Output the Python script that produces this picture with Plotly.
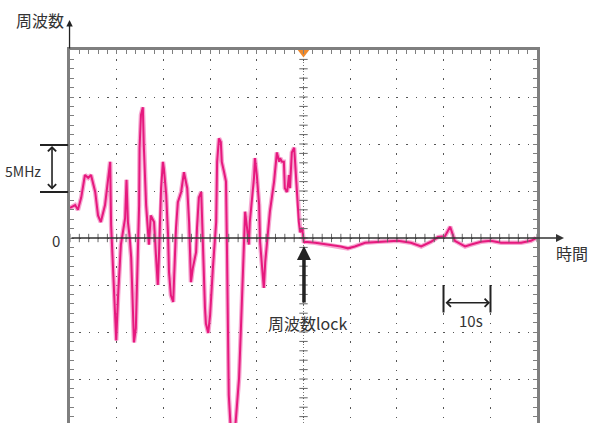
import plotly.graph_objects as go

# ---- data (time in s, frequency offset in MHz) ----
time_s = [0.0, 1.1, 1.7, 2.4, 3.2, 3.9, 4.5, 5.4, 6.0, 6.6, 7.5, 8.1, 8.6, 8.8, 9.2, 9.6, 9.9,
          10.3, 10.7, 10.9, 11.8, 12.1, 12.4, 12.8, 13.1, 13.5, 13.7, 14.1, 14.6, 14.8, 14.9,
          15.2, 15.6, 15.8, 16.3, 16.7, 16.9, 17.3, 18.0, 18.4, 18.8, 19.1, 19.5, 19.9, 20.1,
          20.6, 21.0, 21.2, 21.6, 22.1, 22.3, 22.7, 23.1, 23.8, 24.4, 25.1, 25.5, 25.7, 25.9,
          26.3, 27.0, 27.2, 27.6, 28.1, 28.3, 28.5, 28.9, 29.1, 29.6, 30.0, 30.2, 30.6, 30.8,
          31.3, 31.5, 31.9, 32.3, 32.5, 33.0, 33.4, 33.6, 33.8, 34.0, 34.5, 35.1, 35.5, 36.2,
          36.6, 37.0, 37.3, 37.5, 37.9, 38.3, 38.5, 39.0, 39.4, 39.6, 40.0, 40.5, 40.7, 41.1,
          41.5, 41.8, 42.2, 42.8, 43.7, 43.9, 44.3, 44.8, 45.0, 45.4, 45.8, 46.0, 46.5, 46.9,
          47.1, 47.5, 48.0, 48.2, 48.6, 49.0, 49.3, 49.7, 50.1,
          50.3, 52.5, 55.2, 58.0, 59.5, 61.0, 63.2, 66.0, 68.1, 70.2, 73.0, 75.2, 77.3, 78.8,
          80.3, 81.4, 82.4, 84.6, 85.9, 88.0, 90.1, 92.3, 94.4, 96.6, 98.7, 99.8]
freq_mhz = [3.2, 3.5, 3.0, 4.3, 6.7, 6.4, 6.7, 4.9, 2.4, 1.7, 3.5, 6.0, 8.1, 1.4, -2.9, -7.9, -10.9,
            -6.1, -2.6, -0.7, 2.1, 6.2, 1.7, 0.0, -2.1, -8.5, -11.1, -9.6, -1.8, 3.5, 9.6,
            13.1, 13.9, 9.9, 3.5, 1.1, -0.7, 2.4, 1.7, -1.8, -5.0, -1.1, 5.3, 8.1, 7.4,
            4.6, 0.3, -3.6, -6.1, -6.8, -3.9, 1.1, 3.8, 4.9, 7.0, 5.3, 1.7, -1.8, -4.7,
            -3.2, -1.5, 1.1, 4.3, 4.9, 1.1, -2.6, -7.4, -9.1, -10.1, -8.2, -6.1, -3.2, -1.8,
            1.7, 8.1, 10.6, 10.2, 8.1, 7.0, 6.0, -0.7, -9.6, -16.7, -21.0, -21.5, -19.4, -14.9,
            -9.6, -4.7, -0.4, 2.8, 1.1, -0.7, 1.7, 4.6, 6.4, 8.5, 6.7, 3.5, -0.4, -2.9,
            -5.3, -2.6, -0.4, 2.8, 6.0, 7.4, 9.1, 8.1, 8.5, 8.1, 8.1, 5.3, 4.9, 6.7,
            5.3, 9.1, 9.6, 8.1, 4.9, 1.7, 0.6, 1.1, -0.5,
            -0.4, -0.5, -0.7, -0.9, -1.1, -0.9, -0.5, -0.4, -0.3, -0.3, -0.5, -0.9, -0.4, 0.1,
            0.2, 1.2, -0.3, -0.9, -0.7, -0.4, -0.3, -0.5, -0.5, -0.5, -0.3, 0.0]

y_label = "周波数"
x_label = "時間"
scale_y_label = "5MHz"
scale_x_label = "10s"
zero_label = "0"
lock_label = "周波数lock"
lock_time = 50

X_RANGE = [0, 100]
Y_RANGE = [-19.68, 20]

FONT = "Noto Sans CJK JP, Noto Sans, sans-serif"
TXT = "#333333"
BORDER = "#7f7f7f"

fig = go.Figure()

# trace: light halo + main line
fig.add_trace(go.Scatter(x=time_s, y=freq_mhz, mode="lines",
                         line=dict(color="rgba(242,130,190,0.7)", width=4.5),
                         hoverinfo="skip", showlegend=False))
fig.add_trace(go.Scatter(x=time_s, y=freq_mhz, mode="lines",
                         line=dict(color="#e6197e", width=2),
                         hoverinfo="skip", showlegend=False))

# centre-cross tick marks (decoration)
cy = [v for v in range(-19, 21)]
fig.add_trace(go.Scatter(x=[lock_time] * len(cy), y=cy, mode="markers",
                         marker=dict(symbol="line-ew", size=6, line=dict(color="#666", width=1)),
                         hoverinfo="skip", showlegend=False, cliponaxis=True))
cx = [v for v in range(0, 101, 2)]
fig.add_trace(go.Scatter(x=cx, y=[0] * len(cx), mode="markers",
                         marker=dict(symbol="line-ns", size=6, line=dict(color="#666", width=1)),
                         hoverinfo="skip", showlegend=False, cliponaxis=True))

# trigger marker
fig.add_trace(go.Scatter(x=[lock_time], y=[19.73], mode="markers",
                         marker=dict(symbol="triangle-down", size=10, color="#f08a2c"),
                         hoverinfo="skip", showlegend=False, cliponaxis=False))

fig.update_xaxes(range=X_RANGE, side="top", showline=True, linewidth=3, linecolor=BORDER,
                 ticks="inside", ticklen=4, tickcolor=BORDER, tick0=0, dtick=10,
                 showticklabels=False, showgrid=True, gridcolor="#555555", gridwidth=1.3,
                 griddash="1.3px,8.1px", zeroline=False, fixedrange=True,
                 minor=dict(dtick=2, ticks="inside", ticklen=4, tickcolor=BORDER, showgrid=False))
fig.update_yaxes(range=Y_RANGE, showline=True, linewidth=3, linecolor=BORDER, mirror="ticks",
                 ticks="inside", ticklen=4, tickcolor=BORDER, tick0=0, dtick=5,
                 showticklabels=False, showgrid=True, gridcolor="#555555", gridwidth=1.3,
                 griddash="1.3px,8.04px", zeroline=False, fixedrange=True,
                 minor=dict(dtick=1, ticks="inside", ticklen=4, tickcolor=BORDER, showgrid=False))

shapes = [
    # centre vertical dotted line
    dict(type="line", xref="x", yref="paper", x0=lock_time, x1=lock_time, y0=0, y1=1,
         line=dict(color="#777", width=1, dash="1px,2px"), layer="below"),
    # 5MHz bracket lines
    dict(type="line", xref="paper", yref="paper", x0=-0.0642, x1=-0.004, y0=0.7453, y1=0.7453,
         line=dict(color="#222", width=2)),
    dict(type="line", xref="paper", yref="paper", x0=-0.0642, x1=-0.004, y0=0.6193, y1=0.6193,
         line=dict(color="#222", width=2)),
    # 10s bracket lines
    dict(type="line", xref="paper", yref="paper", x0=0.7998, x1=0.7998, y0=0.2962, y1=0.37,
         line=dict(color="#222", width=2)),
    dict(type="line", xref="paper", yref="paper", x0=0.9004, x1=0.9004, y0=0.2962, y1=0.37,
         line=dict(color="#222", width=2)),
]

def label(x, y, text, size):
    return dict(x=x, y=y, xref="paper", yref="paper", text=text, showarrow=False,
                xanchor="center", yanchor="middle",
                font=dict(size=size, color=TXT, family=FONT))

ann = [
    # y-axis arrow
    dict(x=-0.001, y=1.0804, xref="paper", yref="paper", ax=0, ay=30, text="", showarrow=True,
         arrowhead=2, arrowsize=1, arrowwidth=1.3, arrowcolor="#222"),
    # x-axis (zero) arrow
    dict(x=1.0578, y=0.496, xref="paper", yref="paper", ax=-494, ay=0, text="", showarrow=True,
         arrowhead=2, arrowsize=1, arrowwidth=1.6, arrowcolor="#333"),
    # 5MHz double arrow
    dict(x=-0.0385, y=0.7426, xref="paper", yref="paper", ax=0, ay=45, text="", showarrow=True,
         arrowhead=4, startarrowhead=4, arrowside="end+start", arrowsize=1, startarrowsize=1,
         arrowwidth=1.6, arrowcolor="#222"),
    # 10s double arrow
    dict(x=0.8994, y=0.3225, xref="paper", yref="paper", ax=-46, ay=0, text="", showarrow=True,
         arrowhead=4, startarrowhead=4, arrowside="end+start", arrowsize=1, startarrowsize=1,
         arrowwidth=1.6, arrowcolor="#222"),
    # lock arrow
    dict(x=0.501, y=0.4745, xref="paper", yref="paper", ax=0, ay=58, text="", showarrow=True,
         arrowhead=2, arrowsize=0.8, arrowwidth=3.5, arrowcolor="#222"),
    # labels
    label(-0.0653, 1.0804, y_label, 16),
    label(1.076, 0.4558, x_label, 16),
    label(-0.0996, 0.6743, scale_y_label, 14),
    label(-0.03, 0.488, zero_label, 15),
    label(0.5086, 0.2668, lock_label, 16),
    label(0.8597, 0.2735, scale_x_label, 15),
]

fig.update_layout(width=589, height=423, margin=dict(l=70, r=52, t=50, b=0, pad=0),
                  paper_bgcolor="white", plot_bgcolor="white", showlegend=False,
                  hovermode=False, dragmode=False,
                  shapes=shapes, annotations=ann, font=dict(family=FONT))

# remove the browser's default 8px body margin so the figure fills the window exactly
fig.write_html("out.html", config={"displayModeBar": False},
               post_script="document.body.style.margin='0px';document.body.style.overflow='hidden';")
